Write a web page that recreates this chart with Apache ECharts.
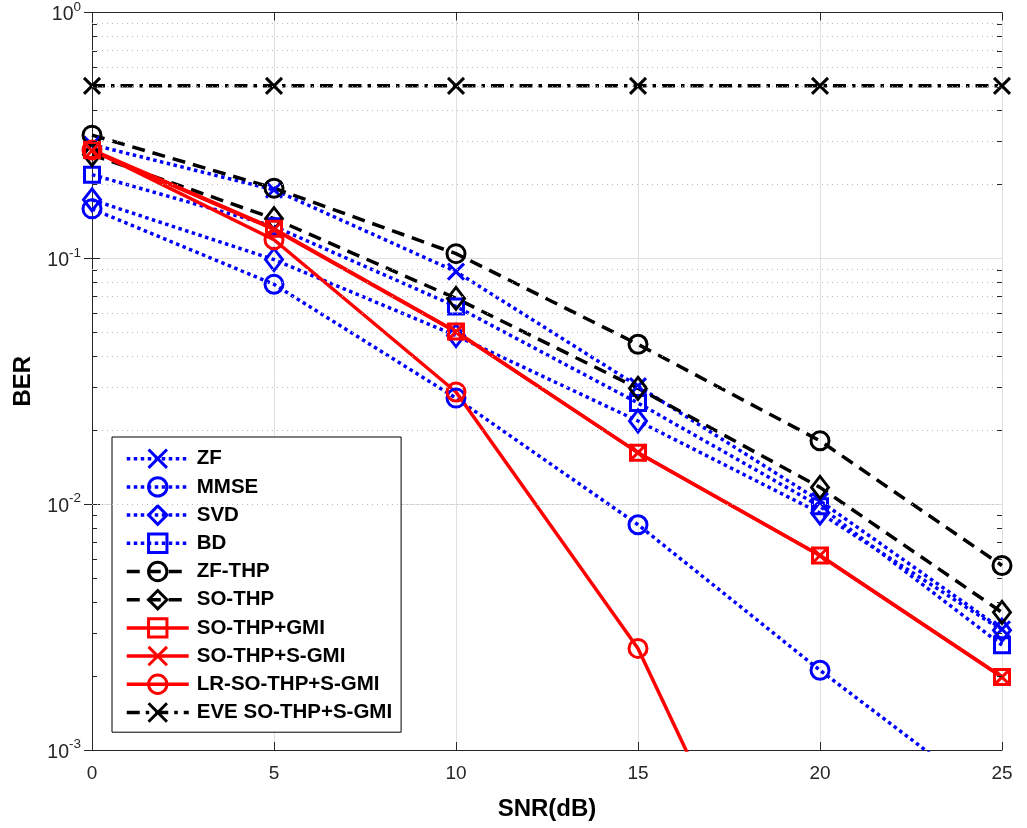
<!DOCTYPE html>
<html>
<head>
<meta charset="utf-8">
<script src="https://cdn.jsdelivr.net/npm/echarts@6/dist/echarts.min.js"></script>
<style>
html,body{margin:0;padding:0;background:#fff;}
#chart{width:1027px;height:828px;}
</style>
</head>
<body>
<div id="chart"></div>
<script>
// ---- data ----
const snr = [0, 5, 10, 15, 20, 25];
const zf      = [0.290, 0.190, 0.0883, 0.0302, 0.0103, 0.00310];
const mmse    = [0.159, 0.0784, 0.0270, 0.00825, 0.00211, 0.00058];
const svd     = [0.173, 0.0988, 0.0485, 0.0218, 0.0092, 0.00307];
const bd      = [0.219, 0.135, 0.0637, 0.0258, 0.0098, 0.00267];
const zfThp   = [0.317, 0.193, 0.1045, 0.0447, 0.0181, 0.00563];
const soThp   = [0.264, 0.145, 0.0687, 0.0296, 0.0117, 0.00363];
const soGmi   = [0.276, 0.132, 0.0504, 0.0162, 0.00618, 0.00198];
const soSGmi  = [0.274, 0.131, 0.0502, 0.0162, 0.00618, 0.00198];
const lrSGmi  = [0.276, 0.119, 0.0286, 0.00259, 0.00007, 0.000002];
const eve     = [0.503, 0.503, 0.503, 0.503, 0.503, 0.503];
const xTicks = [0, 5, 10, 15, 20, 25];
const yDecades = [0.001, 0.01, 0.1, 1];

const names = ['ZF','MMSE','SVD','BD','ZF-THP','SO-THP','SO-THP+GMI','SO-THP+S-GMI','LR-SO-THP+S-GMI','EVE SO-THP+S-GMI'];

const FONT = '"Liberation Sans", Arial, Helvetica, sans-serif';
const BLUE = '#0000ff', RED = '#ff0000', BLACK = '#000000';
const X_PATH = 'path://M0,0L10,10M10,0L0,10';

function pairs(vals){ return snr.map((x,i)=>[x, vals[i]]); }

function mk(name, vals, color, dash, symbol, symSize){
  return {
    name: name, type: 'line', data: pairs(vals),
    symbol: symbol, symbolSize: symSize, symbolKeepAspect: true,
    showAllSymbol: true, clip: true,
    lineStyle: {color: color, width: 3.5, type: dash},
    itemStyle: {color: 'rgba(0,0,0,0)', borderColor: color, borderWidth: 3},
    emphasis: {disabled: true},
    z: 3
  };
}

const dotted = [3.5, 3.5];
const dashed = [13, 8];
const dashdot = [13, 6, 3.5, 6];

const series = [
  mk('ZF', zf, BLUE, dotted, X_PATH, 16),
  mk('MMSE', mmse, BLUE, dotted, 'circle', 18),
  mk('SVD', svd, BLUE, dotted, 'diamond', [17, 22]),
  mk('BD', bd, BLUE, dotted, 'rect', 15),
  mk('ZF-THP', zfThp, BLACK, dashed, 'circle', 18),
  mk('SO-THP', soThp, BLACK, dashed, 'diamond', [17, 22]),
  mk('SO-THP+GMI', soGmi, RED, 'solid', 'rect', 15),
  mk('SO-THP+S-GMI', soSGmi, RED, 'solid', X_PATH, 16),
  mk('LR-SO-THP+S-GMI', lrSGmi, RED, 'solid', 'circle', 18),
  mk('EVE SO-THP+S-GMI', eve, BLACK, dashdot, X_PATH, 16)
];

// minor dotted grid lines (2..9 x 10^k)
const minorVals = [];
yDecades.slice(0, 3).forEach(d => { for (let m = 2; m <= 9; m++) minorVals.push(+(m * d).toPrecision(3)); });
series.push({
  name: '_grid', type: 'line', data: [], silent: true, z: 1,
  markLine: {
    silent: true, symbol: ['none','none'], animation: false,
    label: {show: false},
    lineStyle: {color: '#b8b8b8', width: 1, type: [1, 4]},
    emphasis: {disabled: true},
    data: minorVals.map(v => ({yAxis: v}))
  }
});

const axisCommon = {
  axisLine: {show: true, lineStyle: {color: '#262626', width: 1}},
  axisTick: {show: true, inside: true, length: 8, lineStyle: {color: '#262626', width: 1}}
};

const chart = echarts.init(document.getElementById('chart'), null, {renderer: 'canvas'});
const option = {
  animation: false,
  backgroundColor: '#ffffff',
  grid: {left: 92, right: 25, top: 10, bottom: 78, containLabel: false},
  legend: {
    data: names,
    orient: 'vertical', left: 112, top: 437,
    backgroundColor: '#ffffff', borderColor: '#000000', borderWidth: 1,
    padding: [11, 9, 9, 13],
    itemWidth: 62, itemHeight: 23, itemGap: 6.8,
    lineStyle: {width: 3.5},
    itemStyle: {borderWidth: 3},
    textStyle: {fontFamily: FONT, fontSize: 20.5, fontWeight: 'bold', color: '#000', padding: [0, 0, 0, 3]},
    selectedMode: false
  },
  xAxis: [{
    type: 'value', min: 0, max: 25, interval: 5,
    name: 'SNR(dB)', nameLocation: 'middle', nameGap: 47,
    nameTextStyle: {fontFamily: FONT, fontSize: 24, fontWeight: 'bold', color: '#000'},
    axisLabel: {fontFamily: FONT, fontSize: 19, color: '#262626', margin: 14},
    splitLine: {show: true, lineStyle: {color: '#e0e0e0', width: 1}},
    ...axisCommon
  }, {
    type: 'value', min: 0, max: 25, interval: 5, position: 'top',
    axisLabel: {show: false}, splitLine: {show: false},
    ...axisCommon
  }],
  yAxis: [{
    type: 'log', logBase: 10, min: 0.001, max: 1,
    name: 'BER', nameLocation: 'middle', nameGap: 57, nameRotate: 90,
    nameTextStyle: {fontFamily: FONT, fontSize: 24, fontWeight: 'bold', color: '#000'},
    axisLabel: {
      margin: 11,
      formatter: v => '{b|10}{s|' + Math.round(Math.log10(v)) + '}',
      rich: {
        b: {fontFamily: FONT, fontSize: 19.5, color: '#262626', verticalAlign: 'bottom', lineHeight: 25},
        s: {fontFamily: FONT, fontSize: 13.5, color: '#262626', verticalAlign: 'top', lineHeight: 25}
      }
    },
    splitLine: {show: true, lineStyle: {color: '#e0e0e0', width: 1}},
    ...axisCommon
  }, {
    type: 'log', logBase: 10, min: 0.001, max: 1, position: 'right',
    axisLabel: {show: false}, splitLine: {show: false},
    ...axisCommon
  }],
  series: series
};
chart.setOption(option);

// minor tick marks on the left and right axes (positions from the library's scale)
const gx0 = chart.convertToPixel({xAxisIndex: 0}, 0);
const gx1 = chart.convertToPixel({xAxisIndex: 0}, 25);
const els = [];
minorVals.forEach(v => {
  const y = Math.round(chart.convertToPixel({yAxisIndex: 0}, v)) + 0.5;
  els.push({type: 'line', silent: true, z: 10, shape: {x1: gx0, y1: y, x2: gx0 + 5, y2: y}, style: {stroke: '#262626', lineWidth: 1}});
  els.push({type: 'line', silent: true, z: 10, shape: {x1: gx1, y1: y, x2: gx1 - 5, y2: y}, style: {stroke: '#262626', lineWidth: 1}});
});
chart.setOption({graphic: els});
</script>
</body>
</html>
